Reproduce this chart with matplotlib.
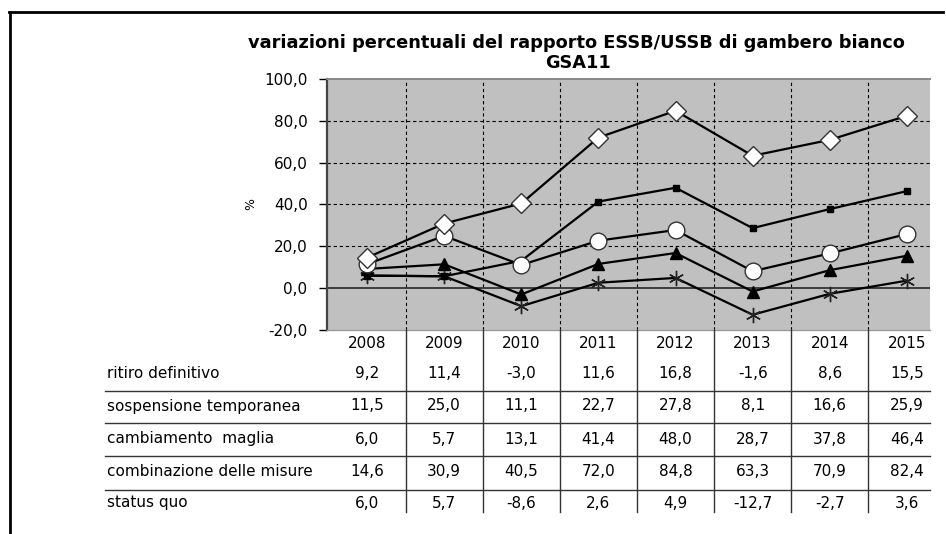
import matplotlib.pyplot as plt
import matplotlib.transforms as mtransforms
from matplotlib.lines import Line2D
from matplotlib.ticker import FuncFormatter

years = ['2008', '2009', '2010', '2011', '2012', '2013', '2014', '2015']
ritiro = [9.2, 11.4, -3.0, 11.6, 16.8, -1.6, 8.6, 15.5]
sospensione = [11.5, 25.0, 11.1, 22.7, 27.8, 8.1, 16.6, 25.9]
cambiamento = [6.0, 5.7, 13.1, 41.4, 48.0, 28.7, 37.8, 46.4]
combinazione = [14.6, 30.9, 40.5, 72.0, 84.8, 63.3, 70.9, 82.4]
status_quo = [6.0, 5.7, -8.6, 2.6, 4.9, -12.7, -2.7, 3.6]

row_names = ['ritiro definitivo', 'sospensione temporanea', 'cambiamento  maglia',
             'combinazione delle misure', 'status quo']
rows = [ritiro, sospensione, cambiamento, combinazione, status_quo]

W, H = 946, 534


def fx(px):
    return px / W


def fy(py):
    return 1 - py / H


def fmt(v):
    return f'{v:.1f}'.replace('.', ',')


plt.rcParams['font.family'] = ['DejaVu Sans']
fig = plt.figure(figsize=(W / 100, H / 100), dpi=100)

ax = fig.add_axes([fx(327), fy(330), fx(930) - fx(327), fy(79) - fy(330)])
ax.set_facecolor('#c0c0c0')
x = list(range(len(years)))

# grid, Excel style
for yv in (20, 40, 60, 80):
    ax.axhline(yv, color='black', lw=0.8, ls=(0, (3, 2.5)), zorder=1)
for i in range(len(years) - 1):
    ax.axvline(i + 0.5, color='black', lw=0.8, ls=(0, (3, 2.5)), zorder=1)
ax.axhline(0, color='#333333', lw=1.3, zorder=1)

line_kw = dict(color='black', lw=1.6, zorder=3)
ax.plot(x, status_quo, marker=(6, 2, 0), ms=11, mec='#222222', mew=1.0, **line_kw)
ax.plot(x, ritiro, marker='^', ms=9, mfc='black', mec='black', **line_kw)
ax.plot(x, cambiamento, marker='s', ms=5, mfc='black', mec='black', **line_kw)
ax.plot(x, sospensione, marker='o', ms=12, mfc='white', mec='#333333', mew=1.0, **line_kw)
ax.plot(x, combinazione, marker='D', ms=10.5, mfc='white', mec='#333333', mew=1.0, **line_kw)

ax.set_xlim(-0.52, 7.3)
ax.set_ylim(-20, 100)
ax.set_yticks(range(-20, 101, 20))
ax.yaxis.set_major_formatter(FuncFormatter(lambda v, p: fmt(v)))
ax.tick_params(axis='y', direction='out', length=6, width=1, labelsize=11,
               colors='black', pad=8)
ax.set_xticks([])
ax.spines['left'].set_color('#444444')
ax.spines['left'].set_linewidth(1.6)
ax.spines['top'].set_color('#888888')
ax.spines['top'].set_linewidth(1.4)
ax.spines['bottom'].set_color('#999999')
ax.spines['bottom'].set_linewidth(1.0)
ax.spines['right'].set_visible(False)

# title and axis label
fig.text(fx(576), fy(43), 'variazioni percentuali del rapporto ESSB/USSB di gambero bianco',
         ha='center', va='center', fontsize=12.8, weight='bold')
fig.text(fx(578), fy(63), 'GSA11', ha='center', va='center', fontsize=12.8, weight='bold')
fig.text(fx(251), fy(204), '%', rotation=90, ha='center', va='center', fontsize=9)

# data table under the chart
tr = mtransforms.blended_transform_factory(ax.transData, fig.transFigure)
for i, yr in enumerate(years):
    ax.text(i, fy(344), yr, transform=tr, fontsize=11, ha='center', va='center', clip_on=False)

text_y = [374, 406, 439, 472, 503]
for name, vals, ty in zip(row_names, rows, text_y):
    fig.text(fx(107), fy(ty), name, fontsize=11, ha='left', va='center')
    for i, v in enumerate(vals):
        ax.text(i, fy(ty), fmt(v), transform=tr, fontsize=11, ha='center', va='center',
                clip_on=False)

for ly in (391, 423, 456, 490):
    fig.add_artist(Line2D([fx(105), fx(930)], [fy(ly), fy(ly)], transform=fig.transFigure,
                          color='#333333', lw=1.0))
for i in range(len(years) - 1):
    fig.add_artist(Line2D([i + 0.5, i + 0.5], [fy(330), fy(512)], transform=tr,
                          color='#333333', lw=1.0))

# outer frame (cropped)
fig.add_artist(Line2D([fx(9), fx(943)], [fy(12), fy(12)], transform=fig.transFigure,
                      color='black', lw=2.0))
fig.add_artist(Line2D([fx(10), fx(10)], [fy(12), fy(534)], transform=fig.transFigure,
                      color='black', lw=2.0))

fig.savefig('out.png', dpi=100)
